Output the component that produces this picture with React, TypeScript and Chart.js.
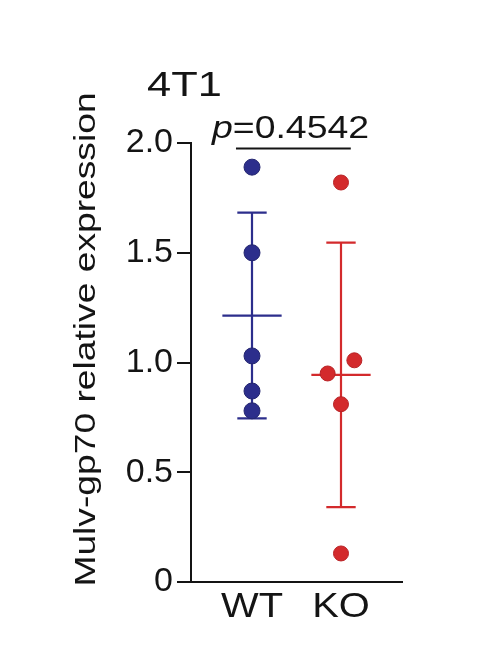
import { useEffect, useRef } from 'react';
import { Chart, registerables } from 'chart.js';

Chart.register(...registerables);

const categories = ['WT', 'KO'];
const wtValues = [1.89, 1.5, 1.03, 0.87, 0.78];
const koValues = [1.82, 1.01, 0.95, 0.81, 0.13];
const wtJitter = [0, 0, 0, 0, 0];
const koJitter = [0, 0.15, -0.15, 0, 0];
const yTickValues = [0, 0.5, 1, 1.5, 2];
const yTickLabels = ['0', '0.5', '1.0', '1.5', '2.0'];
const chartTitle = '4T1';
const yTitle = 'Mulv-gp70 relative expression';
const pValue = '0.4542';

const FONT = '"Liberation Sans", Arial, Helvetica, sans-serif';
const INK = '#141414';
const BLUE = '#2c2e8c';
const RED = '#d32a2c';

const mean = (a: number[]) => a.reduce((s, v) => s + v, 0) / a.length;
const sd = (a: number[]) => {
  const m = mean(a);
  return Math.sqrt(a.reduce((s, v) => s + (v - m) ** 2, 0) / (a.length - 1));
};

// mean line + SD whiskers for one group, gaps split the segments
function summary(values: number[], x: number) {
  const m = mean(values);
  const s = sd(values);
  const gap = { x, y: null };
  return [
    { x: x - 0.333, y: m }, { x: x + 0.333, y: m }, gap,
    { x, y: m - s }, { x, y: m + s }, gap,
    { x: x - 0.165, y: m + s }, { x: x + 0.165, y: m + s }, gap,
    { x: x - 0.165, y: m - s }, { x: x + 0.165, y: m - s },
  ];
}

function stretchedText(
  ctx: CanvasRenderingContext2D, text: string, x: number, y: number,
  size: number, sx: number, align: CanvasTextAlign = 'left', italic = false, rot = 0,
) {
  ctx.save();
  ctx.translate(x, y);
  if (rot) ctx.rotate(rot);
  ctx.scale(sx, 1);
  ctx.font = `${italic ? 'italic ' : ''}${size}px ${FONT}`;
  ctx.fillStyle = INK;
  ctx.textAlign = align;
  ctx.textBaseline = 'alphabetic';
  ctx.fillText(text, 0, 0);
  const w = ctx.measureText(text).width * sx;
  ctx.restore();
  return w;
}

const labelsPlugin = {
  id: 'labels',
  afterDraw(chart: Chart) {
    const { ctx } = chart;
    const xs = chart.scales.x;
    const ys = chart.scales.y;

    // title
    stretchedText(ctx, chartTitle, 147, 95.5, 35, 1.24);

    // y-axis title
    stretchedText(ctx, yTitle, 95, 339.5, 30, 1.24, 'center', false, -Math.PI / 2);

    // category labels
    categories.forEach((c, i) => {
      stretchedText(ctx, c, xs.getPixelForValue(i + 1), 616.5, 35, 1.14, 'center');
    });

    // p-value bracket
    const by = ys.getPixelForValue(1.975);
    ctx.save();
    ctx.strokeStyle = INK;
    ctx.lineWidth = 2;
    ctx.beginPath();
    ctx.moveTo(xs.getPixelForValue(0.82), by);
    ctx.lineTo(xs.getPixelForValue(2.11), by);
    ctx.stroke();
    ctx.restore();

    const px = xs.getPixelForValue(0.55);
    const py = ys.getPixelForValue(2.025);
    const w = stretchedText(ctx, 'p', px, py, 32, 1.17, 'left', true);
    stretchedText(ctx, '=' + pValue, px + w, py, 32, 1.17);
  },
};

export default function App() {
  const canvasRef = useRef<HTMLCanvasElement>(null);
  const chartRef = useRef<Chart | null>(null);

  useEffect(() => {
    if (!canvasRef.current) return;
    if (chartRef.current) chartRef.current.destroy();

    const dot = (values: number[], jitter: number[], i: number) =>
      values.map((v, k) => ({ x: i + 1 + jitter[k], y: v }));

    chartRef.current = new Chart(canvasRef.current, {
      type: 'scatter',
      data: {
        datasets: [
          {
            label: categories[0],
            data: dot(wtValues, wtJitter, 0),
            backgroundColor: BLUE,
            borderColor: '#23256f',
            borderWidth: 1,
            pointRadius: 8,
          },
          {
            label: categories[1],
            data: dot(koValues, koJitter, 1),
            backgroundColor: RED,
            borderColor: '#b82225',
            borderWidth: 1,
            pointRadius: 7.5,
          },
          {
            type: 'line',
            label: 'WT mean ± SD',
            data: summary(wtValues, 1) as any,
            borderColor: BLUE,
            borderWidth: 2.2,
            pointRadius: 0,
            showLine: true,
            spanGaps: false,
          },
          {
            type: 'line',
            label: 'KO mean ± SD',
            data: summary(koValues, 2) as any,
            borderColor: RED,
            borderWidth: 2.2,
            pointRadius: 0,
            showLine: true,
            spanGaps: false,
          },
        ],
      },
      options: {
        animation: false,
        responsive: true,
        maintainAspectRatio: false,
        layout: { padding: { left: 0, top: 143, right: 82, bottom: 71 } },
        plugins: {
          legend: { display: false },
          tooltip: { enabled: false },
        },
        scales: {
          x: {
            type: 'linear',
            min: 0.3146,
            max: 2.6854,
            ticks: { display: false },
            grid: { display: true, drawOnChartArea: false, drawTicks: false },
            border: { display: true, color: INK, width: 2 },
            afterFit: (s: any) => { s.height = 0; },
          },
          y: {
            min: 0,
            max: 2,
            afterBuildTicks: (s: any) => { s.ticks = yTickValues.map((v) => ({ value: v })); },
            ticks: {
              callback: (v: any) => yTickLabels[yTickValues.indexOf(Number(v))],
              color: INK,
              font: { family: FONT, size: 34 },
              padding: 4,
            },
            grid: {
              drawOnChartArea: false,
              drawTicks: true,
              tickLength: 14,
              tickWidth: 2,
              lineWidth: 2,
              tickColor: INK,
            },
            border: { display: true, color: INK, width: 2 },
            afterFit: (s: any) => { s.width = 191; },
          },
        },
      },
      plugins: [labelsPlugin],
    });

    return () => { chartRef.current?.destroy(); };
  }, []);

  return (
    <div style={{ position: 'fixed', left: 0, top: 0, width: 484, height: 653, background: '#fff' }}>
      <canvas ref={canvasRef} />
    </div>
  );
}
